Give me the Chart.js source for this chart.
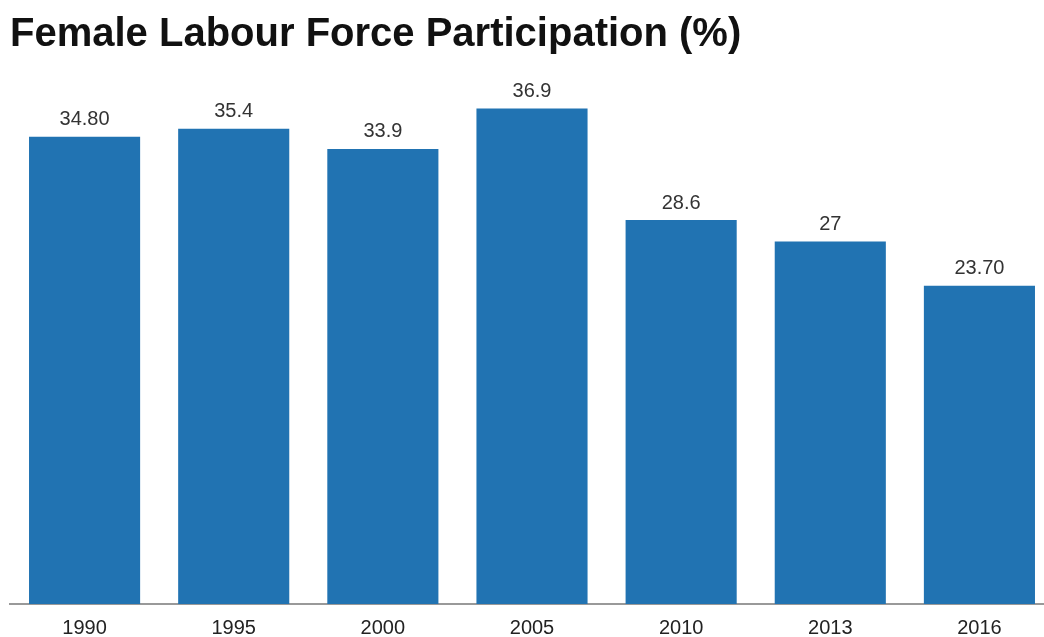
<!DOCTYPE html>
<html>
<head>
<meta charset="utf-8">
<script src="https://cdn.jsdelivr.net/npm/chart.js@4"></script>
<style>
  html, body { margin: 0; padding: 0; background: #fff; overflow: hidden; }
  #wrap { position: relative; width: 1054px; height: 652px; }
</style>
</head>
<body>
<div id="wrap"><canvas id="chart"></canvas></div>
<script>
const years = ['1990', '1995', '2000', '2005', '2010', '2013', '2016'];
const participation = [34.8, 35.4, 33.9, 36.9, 28.6, 27, 23.7];
const valueLabels = ['34.80', '35.4', '33.9', '36.9', '28.6', '27', '23.70'];

// draws the value above each bar
const barValues = {
    id: 'barValues',
    afterDatasetsDraw(chart) {
        const ctx = chart.ctx;
        const meta = chart.getDatasetMeta(0);
        ctx.save();
        ctx.font = '20px "Liberation Sans", Arial, sans-serif';
        ctx.fillStyle = '#333';
        ctx.textAlign = 'center';
        ctx.textBaseline = 'middle';
        meta.data.forEach((bar, i) => {
            ctx.fillText(valueLabels[i], bar.x, bar.y - 17);
        });
        ctx.restore();
    }
};

new Chart(document.getElementById('chart'), {
    type: 'bar',
    data: {
        labels: years,
        datasets: [{
            data: participation,
            backgroundColor: '#2173b2',
            barPercentage: 0.745,
            categoryPercentage: 1
        }]
    },
    options: {
        responsive: true,
        maintainAspectRatio: false,
        animation: false,
        layout: { padding: { left: 10, right: 0, top: 11, bottom: 0 } },
        plugins: {
            legend: { display: false },
            tooltip: { enabled: false },
            title: {
                display: true,
                text: 'Female Labour Force Participation (%)',
                align: 'start',
                color: '#111',
                font: { family: '"Liberation Sans", Arial, sans-serif', size: 40, weight: 'bold' },
                padding: { top: 0, bottom: 8 }
            }
        },
        scales: {
            x: {
                grid: { display: false, drawTicks: false },
                border: { display: true, color: '#999', width: 2 },
                ticks: {
                    color: '#222',
                    padding: 12,
                    font: { family: '"Liberation Sans", Arial, sans-serif', size: 20 }
                }
            },
            y: {
                display: false,
                min: 0,
                max: 40
            }
        }
    },
    plugins: [barValues]
});
</script>
</body>
</html>
